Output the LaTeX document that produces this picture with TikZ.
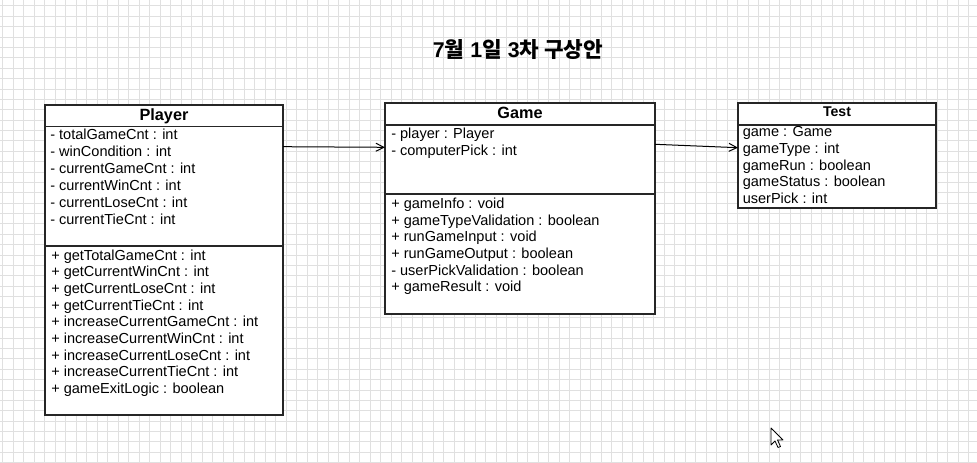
\documentclass[tikz,border=0pt]{standalone}
\usepackage{fontspec}
\setmainfont{Liberation Sans}
\newfontfamily\kor{Noto Sans CJK KR}
\usetikzlibrary{arrows.meta}

\tikzset{
  gridline/.style={draw=black!12, line width=0.75pt},
  classbox/.style={draw=black!85, fill=white, line width=1.4pt},
  divider/.style={draw=black!85, line width=1pt},
  member/.style={anchor=base west, inner sep=0pt, font=\fontsize{10.9}{12}\selectfont},
  classname/.style={anchor=base, inner sep=0pt, font=\fontsize{12.2}{14}\selectfont\bfseries},
  assoc/.style={-{Straight Barb[length=6pt,width=6pt]}, line width=0.75pt}
}

\begin{document}
\begin{tikzpicture}[x=0.75pt, y=-0.75pt]
        \useasboundingbox[fill=white] (0,0) rectangle (977,463);
        % background grid
        \foreach \i in {0,...,92} \draw[gridline] (2.7+10.5*\i,0) -- (2.7+10.5*\i,463);
        \foreach \i in {0,...,44} \draw[gridline] (0,6+10.38*\i) -- (977,6+10.38*\i);

        \node[inner sep=0pt, anchor=base, font=\fontsize{16}{18}\selectfont\bfseries] (title) at (518,57.5) {7{\kor 월} 1{\kor 일} 3{\kor 차 구상안}};

        % Player
        \draw[classbox] (45,105) rectangle (283,415);
        \draw[divider] (45,126.5) -- (283,126.5);
        \draw[divider] (45,246) -- (283,246);
        \node[classname] (player) at (164,120.7) {Player};
        \foreach \t [count=\i] in {- totalGameCnt : int, - winCondition : int, - currentGameCnt : int, - currentWinCnt : int, - currentLoseCnt : int, - currentTieCnt : int}
            \node[member] at (50,140+16.8*\i-16.8) {\t};
        \foreach \t [count=\i] in {+ getTotalGameCnt : int, + getCurrentWinCnt : int, + getCurrentLoseCnt : int, + getCurrentTieCnt : int, + increaseCurrentGameCnt : int, + increaseCurrentWinCnt : int, + increaseCurrentLoseCnt : int, + increaseCurrentTieCnt : int, + gameExitLogic : boolean}
            \node[member] at (51,260+16.67*\i-16.67) {\t};

        % Game
        \draw[classbox] (385,103) rectangle (655,314);
        \draw[divider] (385,125) -- (655,125);
        \draw[divider] (385,194) -- (655,194);
        \node[classname] (game) at (520,119) {Game};
        \foreach \t [count=\i] in {- player : Player, - computerPick : int}
            \node[member] at (391,139+16.7*\i-16.7) {\t};
        \foreach \t [count=\i] in {+ gameInfo : void, + gameTypeValidation : boolean, + runGameInput : void, + runGameOutput : boolean, - userPickValidation : boolean, + gameResult : void}
            \node[member] at (391,208.3+16.7*\i-16.7) {\t};

        % Test
        \draw[classbox] (738,103) rectangle (936,208);
        \draw[divider] (738,125) -- (936,125);
        \node[classname, font=\fontsize{10.6}{12}\selectfont\bfseries] (test) at (837,116.7) {Test};
        \foreach \t [count=\i] in {game : Game, gameType : int, gameRun : boolean, gameStatus : boolean, userPick : int}
            \node[member] at (742.5,136.7+16.67*\i-16.67) {\t};

        % associations
        \coordinate (playerOut) at (283,146.7);
        \coordinate (gameIn) at (385,147.3);
        \coordinate (gameOut) at (655,144.3);
        \coordinate (testIn) at (738,147.7);
        \draw[assoc] (playerOut) -- (gameIn);
        \draw[assoc] (gameOut) -- (testIn);

        % mouse pointer
        \draw[fill=white, line width=0.6pt, line join=round] (771,428) -- ++(0,17) -- ++(4,-4) -- ++(3,6.5) -- ++(2.5,-1) -- ++(-3,-6.5) -- ++(5.5,0) -- cycle;
    \end{tikzpicture}
\end{document}
